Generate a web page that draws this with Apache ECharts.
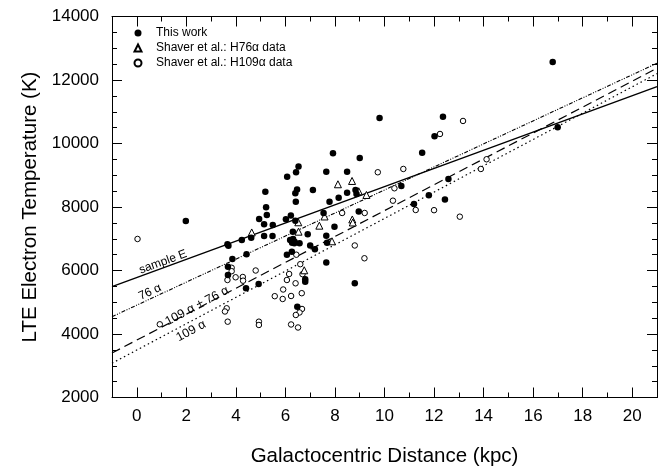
<!DOCTYPE html>
<html>
<head>
<meta charset="utf-8">
<script src="https://cdn.jsdelivr.net/npm/echarts@6/dist/echarts.min.js"></script>
<style>
html,body{margin:0;padding:0;background:#fff;}
#c{width:658px;height:472px;}
</style>
</head>
<body>
<div id="c"></div>
<script>
// ---- data ----
const xTickLabels = [0, 2, 4, 6, 8, 10, 12, 14, 16, 18, 20];
const thisWork = [
  [1.98,7560],[3.66,6826],[3.70,6782],[4.24,6961],[4.62,7034],[5.14,7087],[4.94,7623],[5.14,7456],
  [5.19,8483],[5.22,7991],[5.25,7749],[5.49,7434],[5.48,7087],[6.02,7616],[6.22,7733],[6.07,8955],
  [6.43,9094],[6.53,9277],[6.47,8552],[6.40,8432],[6.42,8168],[6.40,7569],[6.30,7223],[6.19,6961],
  [6.31,6990],[6.37,6908],[6.27,6876],[6.36,6857],[6.57,6857],[6.90,7141],[7.00,6788],[7.19,6671],
  [7.65,7097],[7.68,6873],[7.98,7380],[7.65,6252],[7.54,7812],[7.78,8168],[8.15,8294],[8.49,8451],
  [8.83,8536],[8.87,8410],[8.96,7859],[7.11,8536],[7.65,9113],[8.49,9113],[7.92,9692],[9.00,9544],
  [9.80,10804],[11.52,9711],[12.02,10228],[12.36,10845],[12.58,8883],[12.44,8237],[11.79,8372],
  [11.19,8095],[10.68,8662],[16.79,12568],[16.99,10511],[8.80,5597],[6.80,5723],[6.80,5648],
  [6.48,4860],[6.06,6498],[6.26,6593],[4.43,6511],[3.86,6363],[3.68,6120],[3.68,5859],[4.41,5440],
  [4.92,5575]
];
const shaverH76 = [
  [4.64,7198],[6.52,7519],[6.53,7223],[7.58,7702],[7.37,7412],[7.88,6920],[8.12,8716],[8.69,8820],
  [8.96,8495],[8.70,7607],[8.72,7513],[6.76,6007],[9.27,8379]
];
const shaverH109 = [
  [0.03,6993],[0.93,4306],[3.83,6086],[3.83,5978],[3.66,5701],[3.99,5786],[4.28,5796],[4.29,5679],
  [4.80,6000],[3.63,4810],[3.56,4709],[3.67,4388],[4.93,4388],[4.93,4284],[6.44,6498],[6.60,6199],
  [6.69,5884],[6.15,5890],[6.06,5701],[6.41,5597],[5.91,5402],[5.57,5191],[5.89,5103],[6.23,5197],
  [6.66,5285],[6.67,4788],[6.57,4678],[6.42,4599],[6.23,4300],[6.51,4205],[8.80,6788],[9.19,6385],
  [8.29,7812],[9.20,7812],[9.73,9094],[10.76,9198],[10.40,8590],[10.34,8199],[11.26,7906],[12.0,7900],
  [13.04,7695],[13.89,9198],[14.12,9503],[12.24,10300],[13.17,10710]
];
// fitted lines: values at x = fitX[0] and fitX[1]
const fitX = [-1, 21];
const fitSampleE = [5490, 11790];
const fit76 = [4545, 12527];
const fit109pm76 = [3400, 12370];
const fit109 = [3080, 12200];

const FONT = '"Liberation Sans", Arial, Helvetica, sans-serif';
const chart = echarts.init(document.getElementById('c'), null, {renderer: 'canvas'});

function linePts(vals){ return fitX.map((x,i)=>[x, vals[i]]); }

const baseX = {
  type: 'value', min: -1, max: 21, gridIndex: 0,
  splitLine: {show: false},
  axisLine: {onZero: false, lineStyle: {color: '#000', width: 1}},
};
const majorXTick = {inside: true, length: 10, customValues: xTickLabels, lineStyle: {color: '#000', width: 1}};
const minorXTick = {inside: true, length: 5, lineStyle: {color: '#000', width: 1}};

const baseY = {
  type: 'value', min: 2000, max: 14000, interval: 2000,
  splitLine: {show: false},
  axisLine: {show: true, onZero: false, lineStyle: {color: '#000', width: 1}},
  axisTick: {show: true, inside: true, length: 10, lineStyle: {color: '#000', width: 1}},
  minorTick: {show: true, splitNumber: 4, length: 5, lineStyle: {color: '#000', width: 1}},
};

chart.setOption({
  animation: false,
  backgroundColor: '#fff',
  grid: {left: 112, right: 1, top: 16.5, bottom: 74.5, containLabel: false},
  xAxis: [
    Object.assign({}, baseX, {
      position: 'bottom',
      name: 'Galactocentric Distance (kpc)', nameLocation: 'middle', nameGap: 48,
      nameTextStyle: {color: '#000', fontSize: 20.5, fontFamily: FONT},
      axisTick: majorXTick,
      axisLabel: {customValues: xTickLabels, color: '#000', fontSize: 17, fontFamily: FONT, margin: 10,
                  formatter: v => String(v)}
    }),
    Object.assign({}, baseX, {
      position: 'bottom', interval: 1,
      axisLine: {show: false, onZero: false},
      axisTick: minorXTick, axisLabel: {show: false}
    }),
    Object.assign({}, baseX, {
      position: 'top',
      axisTick: majorXTick, axisLabel: {show: false}
    }),
    Object.assign({}, baseX, {
      position: 'top', interval: 1,
      axisLine: {show: false, onZero: false},
      axisTick: minorXTick, axisLabel: {show: false}
    })
  ],
  yAxis: [
    Object.assign({}, baseY, {
      position: 'left',
      name: 'LTE Electron Temperature (K)', nameLocation: 'middle', nameGap: 71,
      nameTextStyle: {color: '#000', fontSize: 20.5, fontFamily: FONT},
      axisLabel: {color: '#000', fontSize: 17, fontFamily: FONT, margin: 13, formatter: v => String(v)}
    }),
    Object.assign({}, baseY, {
      position: 'right',
      axisLabel: {show: false}
    })
  ],
  legend: {
    orient: 'vertical', left: 133.5, top: 27, padding: 0,
    itemWidth: 7, itemHeight: 7, itemGap: 3,
    symbolKeepAspect: true,
    data: ['This work', 'Shaver et al.: H76α data', 'Shaver et al.: H109α data'],
    textStyle: {color: '#000', fontSize: 12, lineHeight: 12, fontFamily: FONT, padding: [0, 0, 0, 9.5]},
    selectedMode: false
  },
  series: [
    {type: 'line', name: 'sample E', data: linePts(fitSampleE), showSymbol: false, silent: true,
     lineStyle: {color: '#000', width: 1.4, type: 'solid'}, z: 2},
    {type: 'line', name: '76 α', data: linePts(fit76), showSymbol: false, silent: true,
     lineStyle: {color: '#000', width: 1.1, type: [4, 1.5, 1, 1.5, 1, 1.5]}, z: 2},
    {type: 'line', name: '109 α ± 76 α', data: linePts(fit109pm76), showSymbol: false, silent: true,
     lineStyle: {color: '#000', width: 1.2, type: [9, 5]}, z: 2},
    {type: 'line', name: '109 α', data: linePts(fit109), showSymbol: false, silent: true,
     lineStyle: {color: '#000', width: 1.2, type: [1.5, 3]}, z: 2},
    {type: 'scatter', name: 'Shaver et al.: H109α data', data: shaverH109, symbol: 'circle', symbolSize: 5.5,
     itemStyle: {color: '#fff', borderColor: '#000', borderWidth: 1, opacity: 1}, z: 3},
    {type: 'scatter', name: 'Shaver et al.: H76α data', data: shaverH76, symbol: 'triangle', symbolSize: 7,
     itemStyle: {color: '#fff', borderColor: '#000', borderWidth: 1, opacity: 1}, z: 4},
    {type: 'scatter', name: 'This work', data: thisWork, symbol: 'circle', symbolSize: 6.5,
     itemStyle: {color: '#000', opacity: 1}, z: 5}
  ],
  graphic: [
    {type: 'text', x: 163, y: 262, rotation: 20 * Math.PI / 180, z: 10,
     style: {text: 'sample E', fontSize: 12, fontFamily: FONT, fill: '#000', align: 'center', verticalAlign: 'middle'}},
    {type: 'text', x: 150, y: 292, rotation: 25 * Math.PI / 180, z: 10,
     style: {text: '76 α', fontSize: 12, fontFamily: FONT, fill: '#000', align: 'center', verticalAlign: 'middle'}},
    {type: 'text', x: 197, y: 306, rotation: 28 * Math.PI / 180, z: 10,
     style: {text: '109 α ± 76 α', fontSize: 12.5, fontFamily: FONT, fill: '#000', align: 'center', verticalAlign: 'middle'}},
    {type: 'text', x: 191, y: 331, rotation: 28 * Math.PI / 180, z: 10,
     style: {text: '109 α', fontSize: 12.5, fontFamily: FONT, fill: '#000', align: 'center', verticalAlign: 'middle'}}
  ]
});
</script>
</body>
</html>
